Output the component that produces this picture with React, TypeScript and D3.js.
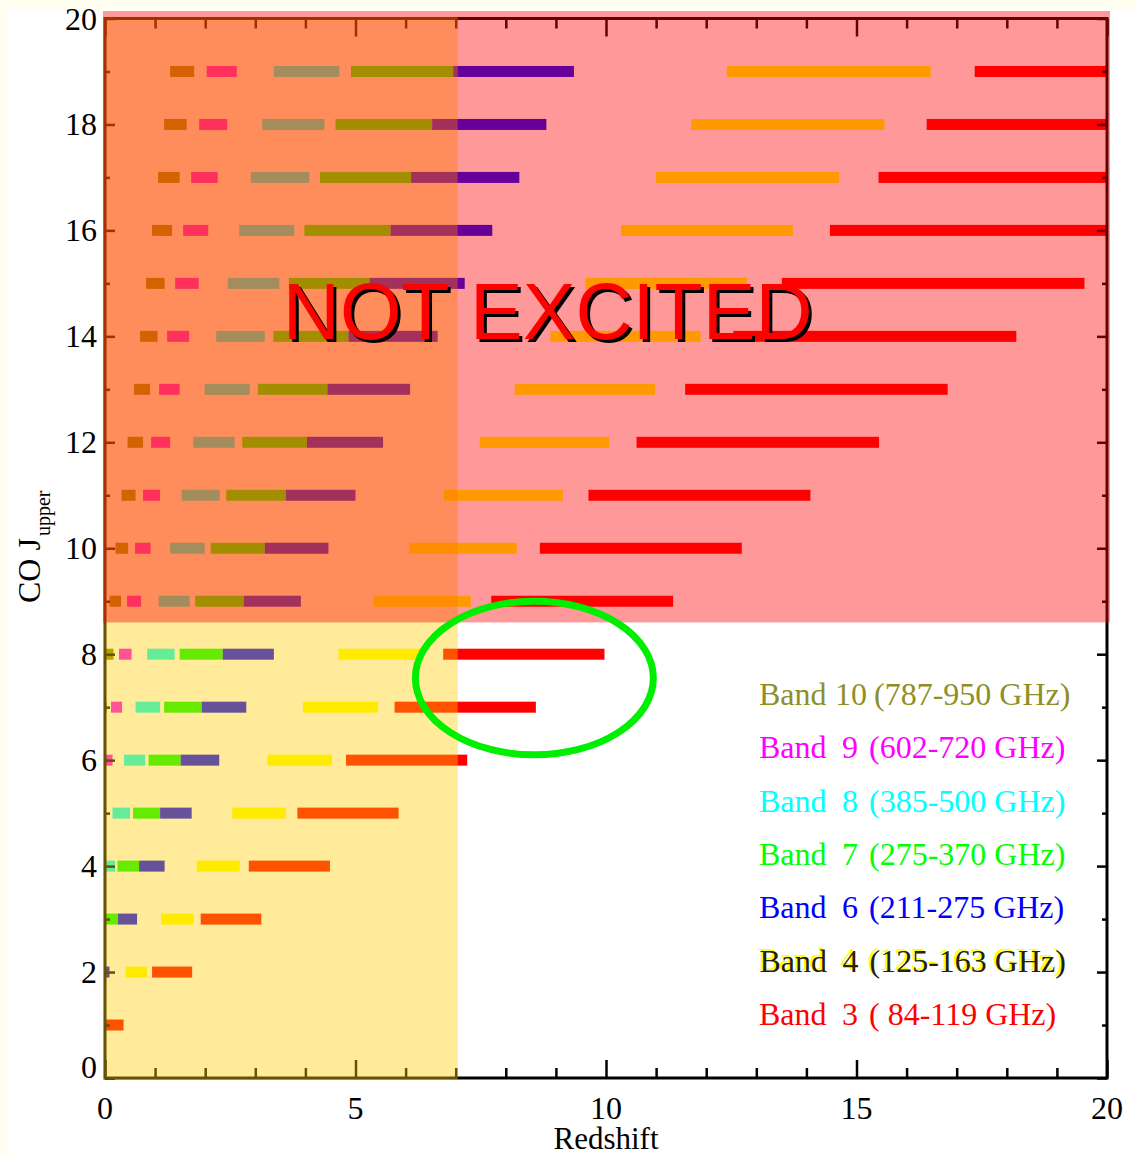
import * as d3 from "d3";
import { useEffect, useRef } from "react";

const W = 1136;
const H = 1155;

// CO rotational ladder, upper level J of each row
const jUpper = [1, 2, 3, 4, 5, 6, 7, 8, 9, 10, 11, 12, 13, 14, 15, 16, 17, 18, 19];

// redshift coverage [zStart, zEnd] per J (index = J - 1), null = line not in band
const band10 = [null, null, null, null, null, null, [0, 0.03], [0, 0.17], [0.09, 0.32], [0.21, 0.46], [0.33, 0.61], [0.45, 0.76], [0.58, 0.9], [0.7, 1.05], [0.82, 1.19], [0.94, 1.34], [1.06, 1.49], [1.18, 1.63], [1.3, 1.78]];
const band9 = [null, null, null, null, null, [0, 0.15], [0.12, 0.34], [0.28, 0.53], [0.44, 0.72], [0.6, 0.91], [0.76, 1.1], [0.92, 1.3], [1.08, 1.49], [1.24, 1.68], [1.4, 1.87], [1.56, 2.06], [1.72, 2.25], [1.88, 2.44], [2.03, 2.63]];
const band8 = [null, null, null, [0, 0.2], [0.15, 0.5], [0.38, 0.8], [0.61, 1.1], [0.84, 1.39], [1.07, 1.69], [1.3, 1.99], [1.53, 2.29], [1.76, 2.59], [1.99, 2.89], [2.22, 3.19], [2.45, 3.48], [2.68, 3.78], [2.91, 4.08], [3.14, 4.38], [3.37, 4.68]];
const band7 = [null, null, [0, 0.26], [0.25, 0.68], [0.56, 1.1], [0.87, 1.51], [1.18, 1.93], [1.49, 2.35], [1.8, 2.77], [2.11, 3.19], [2.42, 3.61], [2.74, 4.03], [3.05, 4.44], [3.36, 4.86], [3.67, 5.28], [3.98, 5.7], [4.29, 6.11], [4.6, 6.53], [4.91, 6.95]];
const band6 = [null, [0, 0.09], [0.26, 0.64], [0.68, 1.19], [1.1, 1.73], [1.51, 2.28], [1.93, 2.82], [2.35, 3.37], [2.77, 3.91], [3.19, 4.46], [3.61, 5.0], [4.03, 5.55], [4.44, 6.09], [4.86, 6.64], [5.28, 7.18], [5.7, 7.73], [6.11, 8.27], [6.53, 8.81], [6.95, 9.36]];
const band4 = [null, [0.41, 0.84], [1.12, 1.77], [1.83, 2.69], [2.54, 3.61], [3.24, 4.53], [3.95, 5.45], [4.66, 6.37], [5.36, 7.3], [6.07, 8.22], [6.77, 9.14], [7.48, 10.06], [8.18, 10.98], [8.89, 11.89], [9.59, 12.81], [10.3, 13.73], [11.0, 14.65], [11.7, 15.56], [12.41, 16.48]];
const band3 = [[0, 0.37], [0.94, 1.74], [1.91, 3.12], [2.87, 4.49], [3.84, 5.86], [4.81, 7.23], [5.78, 8.6], [6.75, 9.97], [7.71, 11.34], [8.68, 12.71], [9.65, 14.08], [10.61, 15.45], [11.58, 16.82], [12.54, 18.19], [13.51, 19.55], [14.47, 20.92], [15.44, 22.29], [16.4, 23.65], [17.36, 25.01]];

const bandNames = ["10", "9", "8", "7", "6", "4", "3"];
const bandRanges = ["(787-950 GHz)", "(602-720 GHz)", "(385-500 GHz)", "(275-370 GHz)", "(211-275 GHz)", "(125-163 GHz)", "( 84-119 GHz)"];
const bandColors = ["#888800", "#ff00ff", "#00ffff", "#00ff00", "#0000ff", "#ffff00", "#ff0000"];
const bandValues = [band10, band9, band8, band7, band6, band4, band3];

const xMajor = [0, 5, 10, 15, 20];
const yMajor = [0, 2, 4, 6, 8, 10, 12, 14, 16, 18, 20];

// "not excited" split: high-J lines and the redshift cut
const jCut = 8.6;
const zCut = 7.04;

const FONT = "Liberation Serif, Times New Roman, serif";

export default function App() {
  const svgRef = useRef<SVGSVGElement>(null);

  useEffect(() => {
    if (!svgRef.current) return;
    const svg = d3.select(svgRef.current);
    svg.selectAll("*").remove();

    const x = d3.scaleLinear().domain([0, 20]).range([105, 1107]);
    const y = d3.scaleLinear().domain([0, 20]).range([1078, 18.5]);

    svg.append("rect").attr("width", W).attr("height", H).attr("fill", "#fffef0");
    svg.append("rect").attr("x", 8).attr("y", 10).attr("width", W - 8).attr("height", H - 10).attr("fill", "#ffffff");

    svg.append("defs").append("clipPath").attr("id", "plot-clip")
      .append("rect")
      .attr("x", x(0)).attr("y", y(20))
      .attr("width", x(20) - x(0)).attr("height", y(0) - y(20));

    // coverage bars
    const barH = 11;
    const barGroup = svg.append("g").attr("clip-path", "url(#plot-clip)");
    bandValues.forEach((vals, b) => {
      const rows = vals.map((r, i) => ({ r, j: jUpper[i] })).filter((d) => d.r) as { r: number[]; j: number }[];
      barGroup.selectAll(null)
        .data(rows)
        .join("rect")
        .attr("x", (d) => x(d.r[0]))
        .attr("y", (d) => y(d.j) - barH / 2)
        .attr("width", (d) => Math.max(1.2, x(d.r[1]) - x(d.r[0])))
        .attr("height", barH)
        .attr("fill", bandColors[b]);
    });

    // axes: ticks from d3, labels drawn separately so the serif font sticks
    const styleAxis = (g: any) => {
      g.select(".domain").remove();
      g.selectAll("text").remove();
      g.selectAll("line").attr("stroke", "#000").attr("stroke-width", 2.5);
    };
    const xMinor = d3.range(0, 21).filter((v) => !xMajor.includes(v));
    const yMinor = d3.range(0, 21).filter((v) => !yMajor.includes(v));

    svg.append("g").attr("transform", `translate(0,${y(0)})`)
      .call(d3.axisBottom(x).tickValues(xMajor).tickSize(-18))
      .call(styleAxis);
    svg.append("g").attr("transform", `translate(0,${y(0)})`)
      .call(d3.axisBottom(x).tickValues(xMinor).tickSize(-10))
      .call(styleAxis);
    svg.append("g").attr("transform", `translate(0,${y(20)})`)
      .call(d3.axisTop(x).tickValues(xMajor).tickSize(-18))
      .call(styleAxis);
    svg.append("g").attr("transform", `translate(0,${y(20)})`)
      .call(d3.axisTop(x).tickValues(xMinor).tickSize(-10))
      .call(styleAxis);
    svg.append("g").attr("transform", `translate(${x(0)},0)`)
      .call(d3.axisLeft(y).tickValues(yMajor).tickSize(-10))
      .call(styleAxis);
    svg.append("g").attr("transform", `translate(${x(0)},0)`)
      .call(d3.axisLeft(y).tickValues(yMinor).tickSize(-5))
      .call(styleAxis);
    svg.append("g").attr("transform", `translate(${x(20)},0)`)
      .call(d3.axisRight(y).tickValues(yMajor).tickSize(-10))
      .call(styleAxis);
    svg.append("g").attr("transform", `translate(${x(20)},0)`)
      .call(d3.axisRight(y).tickValues(yMinor).tickSize(-5))
      .call(styleAxis);

    svg.append("g")
      .selectAll("text")
      .data(xMajor)
      .join("text")
      .attr("x", (d) => x(d))
      .attr("y", y(0) + 41)
      .attr("text-anchor", "middle")
      .attr("font-family", FONT)
      .attr("font-size", 32)
      .text((d) => String(d));

    svg.append("g")
      .selectAll("text")
      .data(yMajor)
      .join("text")
      .attr("x", x(0) - 8)
      .attr("y", (d) => y(d) + (d === 0 ? 0 : 11))
      .attr("text-anchor", "end")
      .attr("font-family", FONT)
      .attr("font-size", 32)
      .text((d) => String(d));

    svg.append("rect")
      .attr("x", x(0)).attr("y", y(20))
      .attr("width", x(20) - x(0)).attr("height", y(0) - y(20))
      .attr("fill", "none").attr("stroke", "#000").attr("stroke-width", 3);

    // axis titles
    svg.append("text")
      .attr("x", x(10)).attr("y", 1149)
      .attr("text-anchor", "middle")
      .attr("font-family", FONT).attr("font-size", 31)
      .text("Redshift");
    const yTitle = svg.append("text")
      .attr("transform", "translate(40,603) rotate(-90)")
      .attr("font-family", FONT).attr("font-size", 32);
    yTitle.append("tspan").text("CO J");
    yTitle.append("tspan").attr("font-size", 20).attr("dy", 10).attr("dx", 2).text("upper");

    // shaded regions, semi-transparent on top of bars and axes
    svg.append("rect")
      .attr("x", x(-0.04)).attr("y", y(20.03))
      .attr("width", x(zCut) - x(-0.04)).attr("height", y(-0.03) - y(20.03))
      .attr("fill", "#ffcc00").attr("opacity", 0.4);
    svg.append("rect")
      .attr("x", x(-0.04)).attr("y", y(20.14))
      .attr("width", x(20.06) - x(-0.04)).attr("height", y(jCut) - y(20.14))
      .attr("fill", "#ff0000").attr("opacity", 0.4);

    // NOT EXCITED banner
    const banner = { z: 3.55, j: 13.95 };
    svg.append("text")
      .attr("x", x(banner.z) + 3).attr("y", y(banner.j) + 3)
      .attr("font-family", "Liberation Sans, Arial, sans-serif").attr("font-size", 79)
      .attr("fill", "#000")
      .text("NOT EXCITED");
    svg.append("text")
      .attr("x", x(banner.z)).attr("y", y(banner.j))
      .attr("font-family", "Liberation Sans, Arial, sans-serif").attr("font-size", 79)
      .attr("fill", "#ff0000")
      .text("NOT EXCITED");

    // highlight ellipse
    const ring = { z: 8.57, j: 7.55, dz: 2.375, dj: 1.45 };
    svg.append("ellipse")
      .attr("cx", x(ring.z)).attr("cy", y(ring.j))
      .attr("rx", x(ring.z + ring.dz) - x(ring.z))
      .attr("ry", y(ring.j - ring.dj) - y(ring.j))
      .attr("fill", "none").attr("stroke", "#00ee00").attr("stroke-width", 7);

    // legend
    const legend = svg.append("g").attr("font-family", FONT).attr("font-size", 32);
    bandNames.forEach((name, i) => {
      const base = 705 + i * 53.3;
      const color = bandColors[i];
      const row = legend.append("g");
      const parts = [
        { t: "Band", x: 759, anchor: "start" },
        { t: name, x: name === "10" ? 851 : 850, anchor: "middle" },
        { t: bandRanges[i], x: name === "10" ? 874 : 869, anchor: "start" },
      ];
      parts.forEach((p) => {
        if (name === "4") {
          row.append("text").attr("x", p.x - 1.5).attr("y", base - 1.5)
            .attr("text-anchor", p.anchor).attr("fill", color)
            .style("white-space", "pre").text(p.t);
          row.append("text").attr("x", p.x + 0.5).attr("y", base + 0.5)
            .attr("text-anchor", p.anchor).attr("fill", "#222200")
            .style("white-space", "pre").text(p.t);
          return;
        }
        row.append("text").attr("x", p.x).attr("y", base)
          .attr("text-anchor", p.anchor).attr("fill", name === "10" ? "#8f8f26" : color)
          .style("white-space", "pre").text(p.t);
      });
    });
  }, []);

  return (
    <svg
      ref={svgRef}
      width={W}
      height={H}
      style={{ position: "absolute", left: 0, top: 0, display: "block" }}
    ></svg>
  );
}
